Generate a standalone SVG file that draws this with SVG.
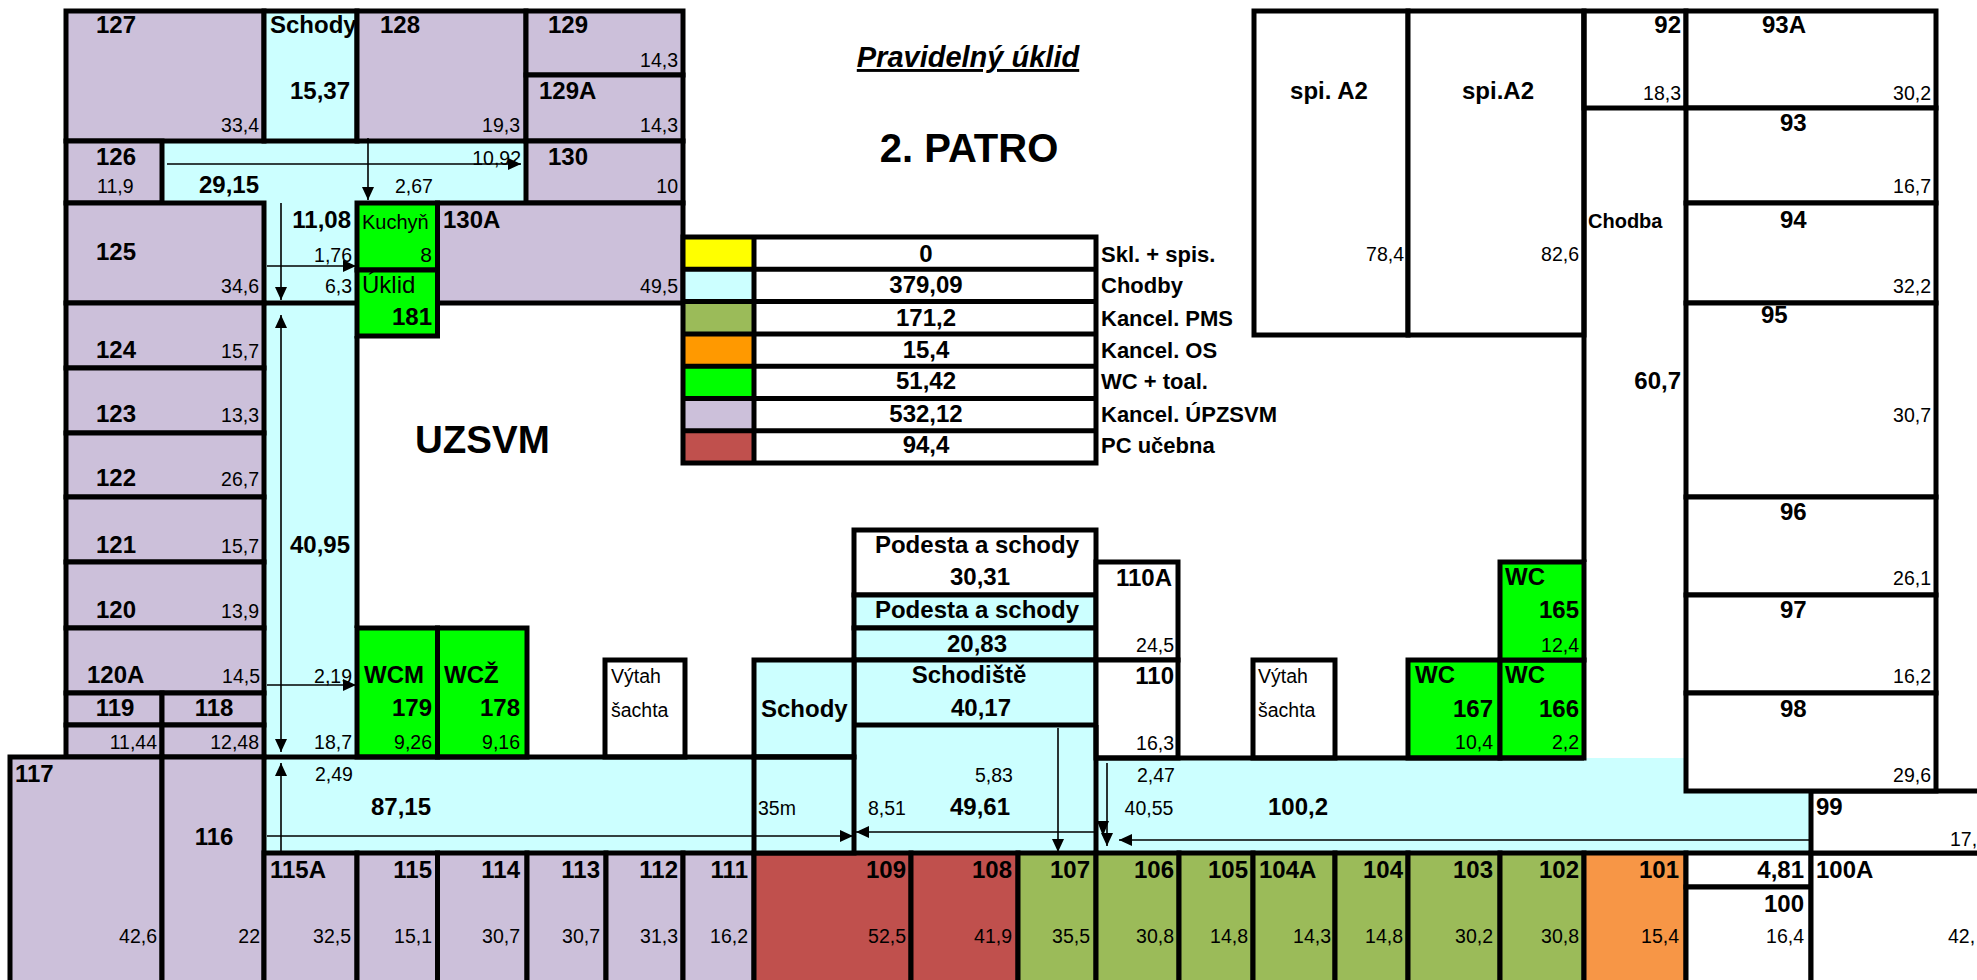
<svg xmlns="http://www.w3.org/2000/svg" width="1977" height="980" viewBox="0 0 1977 980">
<defs>
<style>
.w{stroke:#000;stroke-width:5}
.L{fill:#CCC0DA}.C{fill:#CCFFFF}.G{fill:#00FF00}.O{fill:#9BBB59}.R{fill:#C0504D}.Or{fill:#F79646}.W{fill:#FFFFFF}
text{font-family:"Liberation Sans",Arial,sans-serif;fill:#000}
.b{font-size:24px;font-weight:bold}
.r{font-size:19.5px}
.e{text-anchor:end}.m{text-anchor:middle}
.lg{font-size:22px;font-weight:bold}
.ar{stroke:#000;stroke-width:1.6;fill:none;marker-end:url(#ah)}
</style>
<marker id="ah" viewBox="0 0 13 12" refX="13" refY="6" markerWidth="13" markerHeight="12" markerUnits="userSpaceOnUse" orient="auto-start-reverse"><path d="M0,0 L13,6 L0,12 z" fill="#000"/></marker>
</defs>
<rect width="1977" height="980" fill="#fff"/>

<g id="corridors">
<polygon class="C" points="162,141 526,141 526,203 357,203 357,757 754,757 754,853 264,853 264,203 162,203"/>
<rect class="C" x="854" y="725" width="242" height="128"/>
<polygon class="C" points="1096,758 1686,758 1686,791 1811,791 1811,853 1096,853"/>
<text class="b" x="199" y="193">29,15</text>
<text class="r e" x="521" y="165">10,92</text>
<text class="r" x="395" y="193">2,67</text>
<text class="b e" x="351" y="228">11,08</text>
<text class="r e" x="352" y="262">1,76</text>
<text class="r e" x="352" y="293">6,3</text>
<text class="b e" x="350" y="553">40,95</text>
<text class="r e" x="352" y="683">2,19</text>
<text class="r e" x="352" y="749">18,7</text>
<text class="r" x="315" y="781">2,49</text>
<text class="b" x="371" y="815">87,15</text>
<text class="r m" x="994" y="782">5,83</text>
<text class="r m" x="887" y="815">8,51</text>
<text class="b m" x="980" y="815">49,61</text>
<text class="r" x="1137" y="782">2,47</text>
<text class="r m" x="1149" y="815">40,55</text>
<text class="b" x="1268" y="815">100,2</text>
</g>

<g id="r127"><rect class="L w" x="66" y="11" width="198" height="130"/><text class="b" x="96" y="33">127</text><text class="r e" x="259" y="132">33,4</text></g>
<g id="schody-top"><rect class="C w" x="264" y="11" width="93" height="130"/><text class="b" x="270" y="33">Schody</text><text class="b e" x="350" y="99">15,37</text></g>
<g id="r128"><rect class="L w" x="357" y="11" width="169" height="130"/><text class="b" x="380" y="33">128</text><text class="r e" x="520" y="132">19,3</text></g>
<g id="r129"><rect class="L w" x="526" y="11" width="157" height="64"/><text class="b" x="548" y="33">129</text><text class="r e" x="678" y="67">14,3</text></g>
<g id="r129A"><rect class="L w" x="526" y="75" width="157" height="66"/><text class="b" x="539" y="99">129A</text><text class="r e" x="678" y="132">14,3</text></g>
<g id="r126"><rect class="L w" x="66" y="141" width="96" height="62"/><text class="b" x="96" y="165">126</text><text class="r" x="97" y="193">11,9</text></g>
<g id="r130"><rect class="L w" x="526" y="141" width="157" height="62"/><text class="b" x="548" y="165">130</text><text class="r e" x="678" y="193">10</text></g>
<g id="r125"><rect class="L w" x="66" y="203" width="198" height="100"/><text class="b" x="96" y="260">125</text><text class="r e" x="259" y="293">34,6</text></g>
<g id="kuchyn"><rect class="G w" x="357" y="203" width="80.5" height="67"/><text x="362" y="229" style="font-size:20px">Kuchyň</text><text class="r e" x="432" y="262" style="font-size:21px">8</text></g>
<g id="uklid"><rect class="G w" x="357" y="270" width="80.5" height="66"/><text x="362" y="293" style="font-size:24px">Úklid</text><text class="b e" x="432" y="325">181</text></g>
<g id="r130A"><rect class="L w" x="437.5" y="203" width="245.5" height="100"/><text class="b" x="443" y="228">130A</text><text class="r e" x="678" y="293">49,5</text></g>
<g id="r124"><rect class="L w" x="66" y="303" width="198" height="65"/><text class="b" x="96" y="358">124</text><text class="r e" x="259" y="358">15,7</text></g>
<g id="r123"><rect class="L w" x="66" y="368" width="198" height="65"/><text class="b" x="96" y="422">123</text><text class="r e" x="259" y="422">13,3</text></g>
<g id="r122"><rect class="L w" x="66" y="433" width="198" height="64"/><text class="b" x="96" y="486">122</text><text class="r e" x="259" y="486">26,7</text></g>
<g id="r121"><rect class="L w" x="66" y="497" width="198" height="65"/><text class="b" x="96" y="553">121</text><text class="r e" x="259" y="553">15,7</text></g>
<g id="r120"><rect class="L w" x="66" y="562" width="198" height="66"/><text class="b" x="96" y="618">120</text><text class="r e" x="259" y="618">13,9</text></g>
<g id="r120A"><rect class="L w" x="66" y="628" width="198" height="65"/><text class="b" x="87" y="683">120A</text><text class="r e" x="260" y="683">14,5</text></g>
<g id="r119"><rect class="L w" x="66" y="693" width="96" height="32"/><text class="b m" x="115" y="716">119</text></g>
<g id="r118"><rect class="L w" x="162" y="693" width="102" height="32"/><text class="b m" x="214" y="716">118</text></g>
<g id="r119a"><rect class="L w" x="66" y="725" width="96" height="32"/><text class="r e" x="157" y="749">11,44</text></g>
<g id="r118a"><rect class="L w" x="162" y="725" width="102" height="32"/><text class="r e" x="259" y="749">12,48</text></g>
<g id="wcm"><rect class="G w" x="357" y="628" width="80.5" height="129"/><text class="b" x="364" y="683">WCM</text><text class="b e" x="432" y="716">179</text><text class="r e" x="432" y="749">9,26</text></g>
<g id="wcz"><rect class="G w" x="437.5" y="628" width="89.5" height="129"/><text class="b" x="444" y="683">WCŽ</text><text class="b e" x="520" y="716">178</text><text class="r e" x="520" y="749">9,16</text></g>
<g id="vytah1"><rect class="W w" x="605" y="660" width="80" height="97"/><text class="r" x="611" y="683">Výtah</text><text class="r" x="611" y="717">šachta</text></g>
<g id="uzsvm"><text x="415" y="453" style="font-size:38.5px;font-weight:bold">UZSVM</text></g>

<g id="r117"><rect class="L w" x="10" y="757" width="152" height="240"/><text class="b" x="15" y="782">117</text><text class="r e" x="157" y="943">42,6</text></g>
<g id="r116"><rect class="L w" x="162" y="757" width="102" height="240"/><text class="b m" x="214" y="845">116</text><text class="r e" x="260" y="943">22</text></g>
<g id="r115A"><rect class="L w" x="264" y="853" width="93" height="140"/><text class="b" x="270" y="878">115A</text><text class="r e" x="351" y="943">32,5</text></g>
<g id="r115"><rect class="L w" x="357" y="853" width="80.5" height="140"/><text class="b e" x="432" y="878">115</text><text class="r e" x="432" y="943">15,1</text></g>
<g id="r114"><rect class="L w" x="437.5" y="853" width="89.5" height="140"/><text class="b e" x="520" y="878">114</text><text class="r e" x="520" y="943">30,7</text></g>
<g id="r113"><rect class="L w" x="527" y="853" width="79" height="140"/><text class="b e" x="600" y="878">113</text><text class="r e" x="600" y="943">30,7</text></g>
<g id="r112"><rect class="L w" x="606" y="853" width="77" height="140"/><text class="b e" x="678" y="878">112</text><text class="r e" x="678" y="943">31,3</text></g>
<g id="r111"><rect class="L w" x="683" y="853" width="71" height="140"/><text class="b e" x="748" y="878">111</text><text class="r e" x="748" y="943">16,2</text></g>
<g id="r109"><rect class="R w" x="754" y="853" width="157" height="140"/><text class="b e" x="906" y="878">109</text><text class="r e" x="906" y="943">52,5</text></g>
<g id="r108"><rect class="R w" x="911" y="853" width="107" height="140"/><text class="b e" x="1012" y="878">108</text><text class="r e" x="1012" y="943">41,9</text></g>
<g id="r107"><rect class="O w" x="1018" y="853" width="78" height="140"/><text class="b e" x="1090" y="878">107</text><text class="r e" x="1090" y="943">35,5</text></g>
<g id="r106"><rect class="O w" x="1096" y="853" width="83" height="140"/><text class="b e" x="1174" y="878">106</text><text class="r e" x="1174" y="943">30,8</text></g>
<g id="r105"><rect class="O w" x="1179" y="853" width="74" height="140"/><text class="b e" x="1248" y="878">105</text><text class="r e" x="1248" y="943">14,8</text></g>
<g id="r104A"><rect class="O w" x="1253" y="853" width="82" height="140"/><text class="b" x="1259" y="878">104A</text><text class="r e" x="1331" y="943">14,3</text></g>
<g id="r104"><rect class="O w" x="1335" y="853" width="73" height="140"/><text class="b e" x="1403" y="878">104</text><text class="r e" x="1403" y="943">14,8</text></g>
<g id="r103"><rect class="O w" x="1408" y="853" width="92" height="140"/><text class="b e" x="1493" y="878">103</text><text class="r e" x="1493" y="943">30,2</text></g>
<g id="r102"><rect class="O w" x="1500" y="853" width="84" height="140"/><text class="b e" x="1579" y="878">102</text><text class="r e" x="1579" y="943">30,8</text></g>
<g id="r101"><rect class="Or w" x="1584" y="853" width="102" height="140"/><text class="b e" x="1679" y="878">101</text><text class="r e" x="1679" y="943">15,4</text></g>
<g id="r481"><rect class="W w" x="1686" y="853" width="125" height="34"/><text class="b e" x="1804" y="878">4,81</text></g>
<g id="r100"><rect class="W w" x="1686" y="887" width="125" height="110"/><text class="b e" x="1804" y="912">100</text><text class="r e" x="1804" y="943">16,4</text></g>
<g id="r100A"><rect class="W w" x="1811" y="853" width="200" height="140"/><text class="b" x="1816" y="878">100A</text><text class="r" x="1948" y="943">42,</text></g>
<g id="r99"><rect class="W w" x="1811" y="791" width="200" height="62"/><text class="b" x="1816" y="815">99</text><text class="r" x="1950" y="846">17,</text></g>

<g id="podesta1"><rect class="W w" x="854" y="530" width="242" height="65"/><text class="b m" x="977" y="553">Podesta a schody</text><text class="b m" x="980" y="585">30,31</text></g>
<g id="podesta2"><rect class="C w" x="854" y="595" width="242" height="33"/><text class="b m" x="977" y="618">Podesta a schody</text></g>
<g id="podesta2v"><rect class="C w" x="854" y="628" width="242" height="32"/><text class="b m" x="977" y="652">20,83</text></g>
<g id="schodiste"><rect class="C w" x="854" y="660" width="242" height="65"/><text class="b m" x="969" y="683">Schodiště</text><text class="b m" x="981" y="716">40,17</text></g>
<g id="schody-mid"><rect class="C w" x="754" y="660" width="100" height="97"/><text class="b" x="761" y="717">Schody</text></g>
<g id="schody-35m"><rect class="C w" x="754" y="757" width="100" height="96"/><text class="r" x="758" y="815">35m</text></g>
<g id="r110A"><rect class="W w" x="1096" y="562" width="82" height="98"/><text class="b e" x="1172" y="586">110A</text><text class="r e" x="1174" y="652">24,5</text></g>
<g id="r110"><rect class="W w" x="1096" y="660" width="82" height="98"/><text class="b e" x="1174" y="684">110</text><text class="r e" x="1174" y="750">16,3</text></g>
<g id="vytah2"><rect class="W w" x="1253" y="660" width="82" height="98"/><text class="r" x="1258" y="683">Výtah</text><text class="r" x="1258" y="717">šachta</text></g>
<g id="wc167"><rect class="G w" x="1408" y="660" width="92" height="98"/><text class="b" x="1415" y="683">WC</text><text class="b e" x="1493" y="717">167</text><text class="r e" x="1493" y="749">10,4</text></g>
<g id="wc166"><rect class="G w" x="1500" y="660" width="84" height="98"/><text class="b" x="1505" y="683">WC</text><text class="b e" x="1579" y="717">166</text><text class="r e" x="1579" y="749">2,2</text></g>
<g id="wc165"><rect class="G w" x="1500" y="562" width="84" height="98"/><text class="b" x="1505" y="585">WC</text><text class="b e" x="1579" y="618">165</text><text class="r e" x="1579" y="652">12,4</text></g>

<g id="spiA2a"><rect class="W w" x="1254" y="11" width="154" height="324"/><text class="b m" x="1329" y="99">spi. A2</text><text class="r e" x="1404" y="261">78,4</text></g>
<g id="spiA2b"><rect class="W w" x="1408" y="11" width="176" height="324"/><text class="b m" x="1498" y="99">spi.A2</text><text class="r e" x="1579" y="261">82,6</text></g>
<g id="r92"><rect class="W w" x="1584" y="11" width="102" height="97"/><text class="b e" x="1681" y="33">92</text><text class="r e" x="1681" y="100">18,3</text></g>
<g id="r93A"><rect class="W w" x="1686" y="11" width="250" height="97"/><text class="b" x="1762" y="33">93A</text><text class="r e" x="1931" y="100">30,2</text></g>
<g id="r93"><rect class="W w" x="1686" y="108" width="250" height="95"/><text class="b" x="1780" y="131">93</text><text class="r e" x="1931" y="193">16,7</text></g>
<g id="r94"><rect class="W w" x="1686" y="203" width="250" height="100"/><text class="b" x="1780" y="228">94</text><text class="r e" x="1931" y="293">32,2</text></g>
<g id="r95"><rect class="W w" x="1686" y="303" width="250" height="194"/><text class="b" x="1761" y="323">95</text><text class="r e" x="1931" y="422">30,7</text></g>
<g id="r96"><rect class="W w" x="1686" y="497" width="250" height="98"/><text class="b" x="1780" y="520">96</text><text class="r e" x="1931" y="585">26,1</text></g>
<g id="r97"><rect class="W w" x="1686" y="595" width="250" height="98"/><text class="b" x="1780" y="618">97</text><text class="r e" x="1931" y="683">16,2</text></g>
<g id="r98"><rect class="W w" x="1686" y="693" width="250" height="98"/><text class="b" x="1780" y="717">98</text><text class="r e" x="1931" y="782">29,6</text></g>
<g id="chodba"><text x="1588" y="228" style="font-size:20px;font-weight:bold">Chodba</text><text class="b e" x="1681" y="389">60,7</text></g>

<g id="walls" fill="none" class="w">
<path d="M357,336 V628 M264,303 H357 M264,757 H854 M1096,725 V853 M1096,758 H1584 M1584,11 V562"/>
</g>

<g id="title">
<text class="m" x="968" y="67" style="font-size:29px;font-weight:bold;font-style:italic;text-decoration:underline">Pravidelný úklid</text>
<text class="m" x="969" y="162" style="font-size:40px;font-weight:bold">2. PATRO</text>
</g>

<g id="legend">
<rect x="683" y="237" width="71" height="32.3" fill="#FFFF00"/>
<rect x="683" y="269.3" width="71" height="32.3" fill="#CCFFFF"/>
<rect x="683" y="301.6" width="71" height="32.3" fill="#9BBB59"/>
<rect x="683" y="333.9" width="71" height="32.3" fill="#FF9900"/>
<rect x="683" y="366.2" width="71" height="32.3" fill="#00FF00"/>
<rect x="683" y="398.5" width="71" height="32.3" fill="#CCC0DA"/>
<rect x="683" y="430.8" width="71" height="32.3" fill="#C0504D"/>
<rect class="w" x="683" y="237" width="413" height="226" fill="none"/>
<path class="w" fill="none" d="M754,237 V463 M683,269.3 H1096 M683,301.6 H1096 M683,333.9 H1096 M683,366.2 H1096 M683,398.5 H1096 M683,430.8 H1096"/>
<text class="b m" x="926" y="262">0</text>
<text class="b m" x="926" y="293">379,09</text>
<text class="b m" x="926" y="326">171,2</text>
<text class="b m" x="926" y="358">15,4</text>
<text class="b m" x="926" y="389">51,42</text>
<text class="b m" x="926" y="422">532,12</text>
<text class="b m" x="926" y="453">94,4</text>
<text class="lg" x="1101" y="262">Skl. + spis.</text>
<text class="lg" x="1101" y="293">Chodby</text>
<text class="lg" x="1101" y="326">Kancel. PMS</text>
<text class="lg" x="1101" y="358">Kancel. OS</text>
<text class="lg" x="1101" y="389">WC + toal.</text>
<text class="lg" x="1101" y="422">Kancel. ÚPZSVM</text>
<text class="lg" x="1101" y="453">PC učebna</text>
</g>

<g id="connectors">
<path class="ar" d="M167,164 H521"/>
<path class="ar" d="M368,138 V200"/>
<path class="ar" d="M267,266 H356"/>
<path class="ar" d="M281,203 V300"/>
<path class="ar" d="M281,315 V752" style="marker-start:url(#ah)"/>
<path class="ar" d="M281,852 V763"/>
<path class="ar" d="M267,685 H356"/>
<path class="ar" d="M267,836 H853"/>
<path class="ar" d="M1094,832 H856"/>
<path class="ar" d="M1058,728 V852"/>
<path class="ar" d="M1107,763 V846"/>
<path d="M1097,821 L1109,821 L1103,836 z" fill="#000"/>
<path class="ar" d="M1811,840 H1119"/>
</g>
</svg>
